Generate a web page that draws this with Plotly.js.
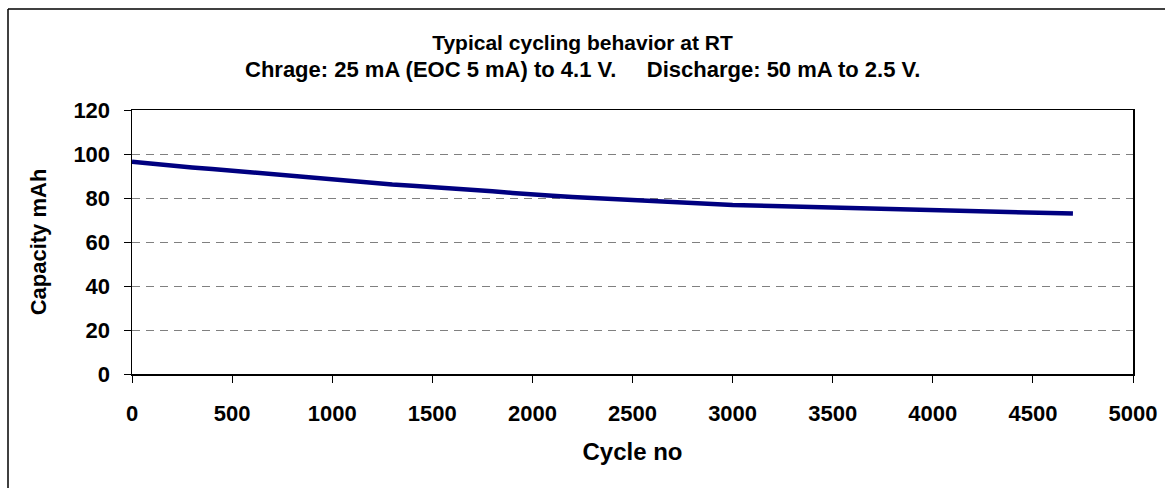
<!DOCTYPE html>
<html>
<head>
<meta charset="utf-8">
<script src="https://cdn.plot.ly/plotly-3.0.1.min.js"></script>
<style>
  html, body { margin: 0; padding: 0; background: #fff; }
  #chart { width: 1165px; height: 488px; }
</style>
</head>
<body>
<div id="chart"></div>
<script>
// Data
const cycles   = [0, 50, 100, 150, 200, 250, 300, 400, 500, 600, 700, 800, 900, 1000, 1100, 1200, 1300, 1400, 1500, 1600, 1700, 1800, 1900, 2000, 2100, 2200, 2300, 2400, 2500, 2600, 2700, 2800, 2900, 3000, 3200, 3400, 3600, 3800, 4000, 4200, 4400, 4700];
const capacity = [96.5, 96.0, 95.5, 95.2, 94.8, 94.3, 93.9, 93.2, 92.4, 91.4, 90.5, 89.8, 89.1, 88.4, 87.5, 86.6, 86.1, 85.6, 85.1, 84.6, 84.0, 83.1, 82.3, 81.5, 81.0, 80.5, 80.0, 79.5, 79.1, 78.8, 78.4, 77.8, 77.2, 76.8, 76.4, 75.9, 75.2, 74.8, 74.2, 73.7, 73.3, 72.9];
const xTicks = [0, 500, 1000, 1500, 2000, 2500, 3000, 3500, 4000, 4500, 5000];
const yTicks = [0, 20, 40, 60, 80, 100, 120];

const titleLine1 = "Typical cycling behavior at RT";
const titleLine2 = "Chrage: 25 mA (EOC 5 mA) to 4.1 V.&nbsp;&nbsp;&nbsp;&nbsp; Discharge: 50 mA to 2.5 V.";
const xTitle = "Cycle no";
const yTitle = "Capacity mAh";

const FONT = "Liberation Sans, Arial, Helvetica, sans-serif";

const trace = {
  x: cycles,
  y: capacity,
  type: "scatter",
  mode: "lines",
  line: { color: "#000080", width: 4.5 },
  hoverinfo: "x+y",
  showlegend: false
};

const layout = {
  width: 1165,
  height: 488,
  paper_bgcolor: "#ffffff",
  plot_bgcolor: "#ffffff",
  margin: { l: 132, r: 32, t: 110, b: 114, pad: 0 },
  font: { family: FONT, color: "#000000" },
  title: {
    text: "<b>" + titleLine1 + "</b>",
    font: { family: FONT, size: 21, color: "#000" },
    x: 0.5, xref: "container", xanchor: "center",
    y: 1 - 43 / 488, yref: "container", yanchor: "middle"
  },
  annotations: [{
    text: "<b>" + titleLine2 + "</b>",
    xref: "paper", yref: "paper",
    x: (582.5 - 132) / 1001, y: (374 - 70) / 264,
    xanchor: "center", yanchor: "middle",
    showarrow: false,
    font: { family: FONT, size: 22, color: "#000" }
  }],
  xaxis: {
    range: [0, 5000],
    tickvals: xTicks,
    ticktext: xTicks.map(String),
    ticks: "outside", ticklen: 7, tickwidth: 1, tickcolor: "#000",
    showline: true, linecolor: "#000", linewidth: 1.5, mirror: true,
    showgrid: false, zeroline: false,
    tickfont: { family: FONT, size: 22, color: "#000", weight: "bold" },
    ticklabelstandoff: 12,
    title: { text: "<b>" + xTitle + "</b>", font: { family: FONT, size: 24, color: "#000" }, standoff: 18 },
    fixedrange: true
  },
  yaxis: {
    range: [0, 120],
    tickvals: yTicks,
    ticktext: yTicks.map(String),
    ticks: "outside", ticklen: 7, tickwidth: 1, tickcolor: "#000",
    showline: true, linecolor: "#000", linewidth: 1.5, mirror: true,
    showgrid: true, gridcolor: "#808080", gridwidth: 1, griddash: "8px,6px",
    zeroline: false,
    tickfont: { family: FONT, size: 22, color: "#000", weight: "bold" },
    ticklabelstandoff: 9,
    title: { text: "<b>" + yTitle + "</b>", font: { family: FONT, size: 22, color: "#000" }, standoff: 20 },
    fixedrange: true
  },
  shapes: [
    { type: "line", xref: "paper", yref: "paper",
      x0: (8 - 132) / 1001, x1: 1.1, y0: (374 - 9) / 264, y1: (374 - 9) / 264,
      line: { color: "#000", width: 1.5 } },
    { type: "line", xref: "paper", yref: "paper",
      x0: (8 - 132) / 1001, x1: (8 - 132) / 1001, y0: (374 - 9) / 264, y1: -0.6,
      line: { color: "#000", width: 1.5 } }
  ]
};

Plotly.newPlot("chart", [trace], layout, { displayModeBar: false, staticPlot: true });
</script>
</body>
</html>
